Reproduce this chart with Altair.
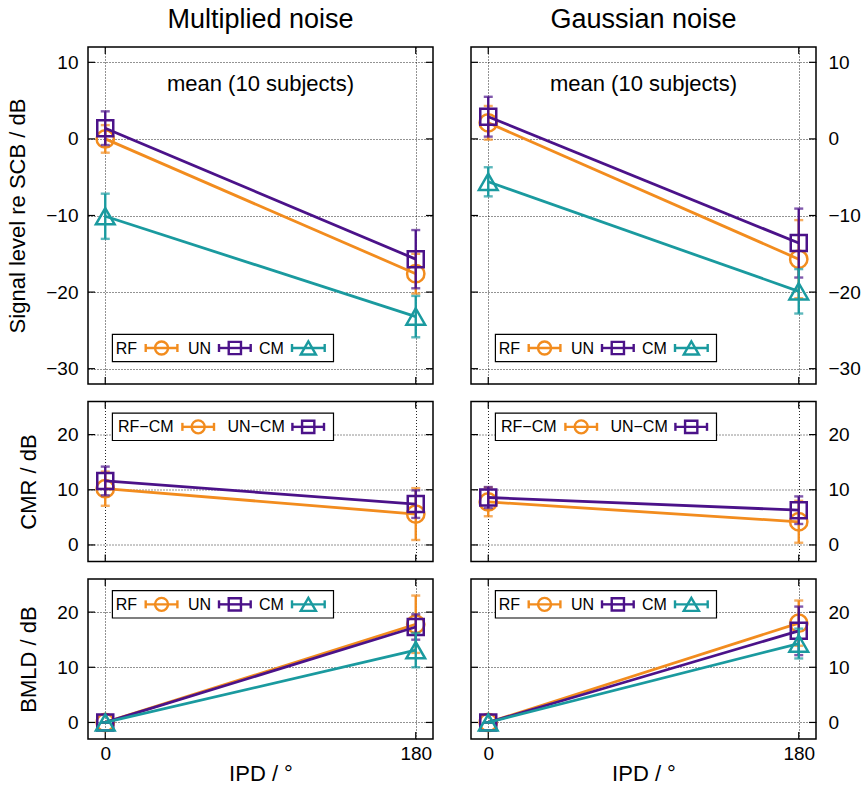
import altair as alt
import pandas as pd

# ---------------- data ----------------
ipd = [0, 180]
x_ticks = [0, 180]
signal_ticks = [-30, -20, -10, 0, 10]
small_ticks = [0, 10, 20]

# Signal level re SCB / dB  (mean, error half-length)
mult_signal_mean = {"RF": [0.0, -17.6], "UN": [1.4, -15.7], "CM": [-10.1, -23.2]}
mult_signal_err = {"RF": [1.8, 2.6], "UN": [2.2, 3.8], "CM": [2.95, 2.7]}
gauss_signal_mean = {"RF": [2.1, -15.7], "UN": [2.9, -13.6], "CM": [-5.6, -19.9]}
gauss_signal_err = {"RF": [2.2, 5.1], "UN": [2.6, 4.5], "CM": [1.9, 2.9]}

# CMR / dB
mult_cmr_mean = {"RF\u2212CM": [10.2, 5.6], "UN\u2212CM": [11.6, 7.4]}
mult_cmr_err = {"RF\u2212CM": [3.1, 4.7], "UN\u2212CM": [2.6, 2.5]}
gauss_cmr_mean = {"RF\u2212CM": [7.8, 4.2], "UN\u2212CM": [8.6, 6.3]}
gauss_cmr_err = {"RF\u2212CM": [2.6, 3.8], "UN\u2212CM": [1.9, 2.5]}

# BMLD / dB
mult_bmld_mean = {"RF": [0.0, 17.8], "UN": [0.0, 17.3], "CM": [0.0, 13.1]}
mult_bmld_err = {"RF": [0.0, 5.2], "UN": [0.0, 2.3], "CM": [0.0, 3.1]}
gauss_bmld_mean = {"RF": [0.0, 18.0], "UN": [0.0, 16.6], "CM": [0.0, 14.3]}
gauss_bmld_err = {"RF": [0.0, 4.1], "UN": [0.0, 4.4], "CM": [0.0, 2.7]}

column_titles = ["Multiplied noise", "Gaussian noise"]
row_titles = ["Signal level re SCB / dB", "CMR / dB", "BMLD / dB"]
note_text = "mean (10 subjects)"
x_title = "IPD / \u00b0"

# ---------------- styles ----------------
ORANGE = "#f28c1e"
PURPLE = "#4b1289"
TEAL = "#1a9a9f"
COLORS = {"RF": ORANGE, "UN": PURPLE, "CM": TEAL, "RF\u2212CM": ORANGE, "UN\u2212CM": PURPLE}
SHAPES = {"RF": "circle", "UN": "square", "CM": "triangle-up",
          "RF\u2212CM": "circle", "UN\u2212CM": "square"}
SIZES = {"circle": 300, "square": 256, "triangle-up": 350}
LEG_SIZES = {"circle": 169, "square": 150, "triangle-up": 230}
FONT = "Liberation Sans"

W = 345
H_TOP = 337
H_SMALL = 160
XSCALE = alt.Scale(domain=[-10, 190], nice=False, zero=False)

LEG3 = [(27.7, 57.7, 89.4), (100, 131, 162.7), (171, 204, 236.7)]
LEG2 = [(30, 94.4, 126), (139.4, 204.4, 236)]


def one_row():
    return pd.DataFrame({"k": [0]})


def panel(means, errs, ydom, yticks, H, col, row, ytitle=None, title=None, note=False):
    ys = alt.Scale(domain=ydom, nice=False, zero=False)
    if col == 0:
        yaxis = alt.Axis(orient="left", values=yticks, title=ytitle,
                         labelPadding=10, titlePadding=16)
    else:
        yaxis = alt.Axis(orient="right", values=yticks, title=None, labelPadding=12)
    if row == 2:
        xaxis = alt.Axis(values=x_ticks, title=x_title, labelPadding=5,
                         titlePadding=0, labelFlush=False, format="d")
    else:
        xaxis = alt.Axis(values=x_ticks, labels=False, title=None)

    def X(f):
        return alt.X(f, type="quantitative", scale=XSCALE, axis=xaxis)

    def Y(f):
        return alt.Y(f, type="quantitative", scale=ys, axis=yaxis)

    layers = []
    # inward ticks (gnuplot style)
    ydf = pd.DataFrame({"v": yticks})
    xdf = pd.DataFrame({"v": x_ticks})
    layers.append(alt.Chart(ydf).mark_rule(color="black", strokeWidth=1.2).encode(
        y=Y("v"), x=alt.value(0), x2=alt.value(7)))
    layers.append(alt.Chart(ydf).mark_rule(color="black", strokeWidth=1.2).encode(
        y=Y("v"), x=alt.value(W - 7), x2=alt.value(W)))
    layers.append(alt.Chart(xdf).mark_rule(color="black", strokeWidth=1.2).encode(
        x=X("v"), y=alt.value(H - 7), y2=alt.value(H)))
    layers.append(alt.Chart(xdf).mark_rule(color="black", strokeWidth=1.2).encode(
        x=X("v"), y=alt.value(0), y2=alt.value(7)))

    for name in means:
        m = means[name]
        e = errs[name]
        df = pd.DataFrame({
            "ipd": ipd,
            "mean": m,
            "lo": [a - b for a, b in zip(m, e)],
            "hi": [a + b for a, b in zip(m, e)],
        })
        c = COLORS[name]
        base = alt.Chart(df)
        layers.append(base.mark_rule(color=c, strokeWidth=2.4).encode(
            x=X("ipd"), y=Y("lo"), y2="hi"))
        layers.append(base.mark_tick(color=c, orient="horizontal", size=9, thickness=2.4).encode(
            x=X("ipd"), y=Y("lo")))
        layers.append(base.mark_tick(color=c, orient="horizontal", size=9, thickness=2.4).encode(
            x=X("ipd"), y=Y("hi")))
        layers.append(base.mark_line(color=c, strokeWidth=2.8).encode(
            x=X("ipd"), y=Y("mean")))
        shp = SHAPES[name]
        layers.append(base.mark_point(color=c, shape=shp, size=SIZES[shp], filled=False,
                                      strokeWidth=2.5, opacity=1).encode(
            x=X("ipd"), y=Y("mean")))

    if note:
        layers.append(alt.Chart(one_row()).mark_text(
            text=note_text, fontSize=22, font=FONT, color="black",
            align="center", baseline="middle").encode(
            x=alt.value(W / 2), y=alt.value(37)))

    # key box
    names = list(means.keys())
    if row == 0:
        y0, y1 = H - 49.7, H - 22.3
    else:
        y0, y1 = 11.7, 39.0
    cy = (y0 + y1) / 2
    pos = LEG3 if len(names) == 3 else LEG2
    layers.append(alt.Chart(one_row()).mark_rect(fill="white", stroke="black", strokeWidth=1.2).encode(
        x=alt.value(24.4), x2=alt.value(245.5), y=alt.value(y0), y2=alt.value(y1)))
    for name, (tx, s0, s1) in zip(names, pos):
        c = COLORS[name]
        shp = SHAPES[name]
        layers.append(alt.Chart(one_row()).mark_text(
            text=name, fontSize=16, font=FONT, color="black", align="left", baseline="middle").encode(
            x=alt.value(tx), y=alt.value(cy + 0.5)))
        layers.append(alt.Chart(one_row()).mark_rule(color=c, strokeWidth=2.4).encode(
            x=alt.value(s0), x2=alt.value(s1), y=alt.value(cy)))
        layers.append(alt.Chart(one_row()).mark_rule(color=c, strokeWidth=2.4).encode(
            x=alt.value(s0), y=alt.value(cy - 4), y2=alt.value(cy + 4)))
        layers.append(alt.Chart(one_row()).mark_rule(color=c, strokeWidth=2.4).encode(
            x=alt.value(s1), y=alt.value(cy - 4), y2=alt.value(cy + 4)))
        layers.append(alt.Chart(one_row()).mark_point(
            color=c, shape=shp, size=LEG_SIZES[shp], filled=False, strokeWidth=2.4, opacity=1).encode(
            x=alt.value((s0 + s1) / 2), y=alt.value(cy)))

    props = dict(width=W, height=H)
    if title is not None:
        props["title"] = alt.TitleParams(title, fontSize=27, font=FONT, fontWeight="normal",
                                         color="black", anchor="middle", offset=12)
    return alt.layer(*layers).properties(**props)


SIG_DOM = [-32, 12]
SMALL_DOM = [-3, 26]

p11 = panel(mult_signal_mean, mult_signal_err, SIG_DOM, signal_ticks, H_TOP, 0, 0,
            ytitle=row_titles[0], title=column_titles[0], note=True)
p12 = panel(gauss_signal_mean, gauss_signal_err, SIG_DOM, signal_ticks, H_TOP, 1, 0,
            title=column_titles[1], note=True)
p21 = panel(mult_cmr_mean, mult_cmr_err, SMALL_DOM, small_ticks, H_SMALL, 0, 1, ytitle=row_titles[1])
p22 = panel(gauss_cmr_mean, gauss_cmr_err, SMALL_DOM, small_ticks, H_SMALL, 1, 1)
p31 = panel(mult_bmld_mean, mult_bmld_err, SMALL_DOM, small_ticks, H_SMALL, 0, 2, ytitle=row_titles[2])
p32 = panel(gauss_bmld_mean, gauss_bmld_err, SMALL_DOM, small_ticks, H_SMALL, 1, 2)

chart = alt.concat(p11, p12, p21, p22, p31, p32, columns=2).properties(
    spacing={"row": 17.5, "column": 38},
    bounds="flush",
    align="each",
    padding={"left": 6, "top": 5, "right": 0, "bottom": 0},
    background="white",
).configure(font=FONT).configure_view(
    stroke="black", strokeWidth=1.5
).configure_axis(
    domain=False, ticks=False, grid=True, gridColor="black", gridDash=[1, 2],
    gridWidth=1, gridOpacity=0.85, labelFont=FONT, labelFontSize=19, labelColor="black",
    titleFont=FONT, titleFontSize=22, titleFontWeight="normal", titleColor="black",
)

chart.save("out.html", embed_options={"renderer": "svg", "actions": False})
